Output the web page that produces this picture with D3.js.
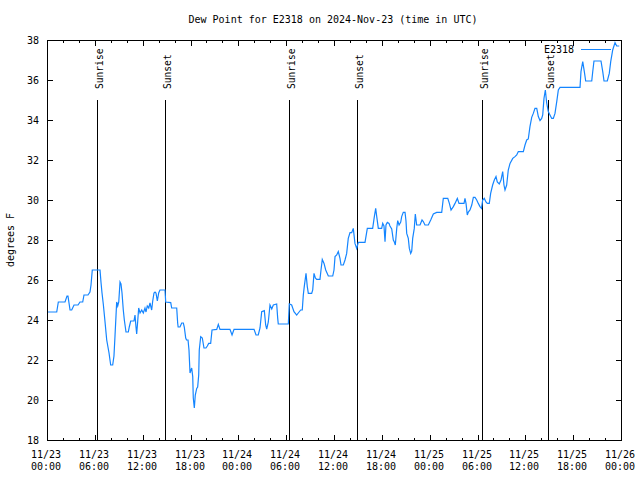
<!DOCTYPE html>
<html>
<head>
<meta charset="utf-8">
<script src="https://cdn.jsdelivr.net/npm/d3@7"></script>
<style>
html,body{margin:0;padding:0;background:#fff;}
svg{display:block;}
text{font-family:"DejaVu Sans Mono",monospace;fill:#000;}
</style>
</head>
<body>
<svg id="chart" width="640" height="480"></svg>
<script>
// ---- data ----
const titleText = "Dew Point for E2318 on 2024-Nov-23 (time in UTC)";
const seriesName = "E2318";
const yLabel = "degrees F";
// hours since 2024-11-23 00:00 UTC
const hours = [0.13,1.22,1.42,2.26,2.51,2.63,2.89,3.10,3.39,3.89,4.14,4.48,4.64,5.14,5.39,5.52,5.68,6.65,6.77,6.90,7.06,7.28,7.49,7.78,7.90,7.99,8.24,8.40,8.53,8.66,8.74,8.87,9.00,9.16,9.28,9.41,9.57,9.70,9.91,10.20,10.32,10.50,10.91,11.04,11.16,11.25,11.38,11.50,11.67,11.88,12.08,12.29,12.42,12.58,12.76,12.92,13.13,13.26,13.42,13.55,13.67,13.84,14.01,14.17,14.80,14.89,15.52,15.64,16.27,16.39,16.45,16.68,16.90,17.10,17.22,17.40,17.50,17.69,17.81,17.94,18.02,18.15,18.28,18.35,18.48,18.60,18.78,18.90,19.03,19.10,19.28,19.48,19.69,19.94,20.11,20.28,20.53,20.70,21.29,21.49,21.70,22.95,23.21,23.46,25.97,26.22,26.50,26.72,26.93,27.26,27.43,27.56,27.76,27.97,28.19,28.39,28.81,28.94,29.01,30.27,30.39,30.69,30.98,31.32,31.52,31.82,32.02,32.15,32.27,32.49,32.65,32.78,33.20,33.33,33.49,33.66,33.83,34.24,34.37,34.53,34.75,34.96,35.29,35.84,36.00,36.13,36.34,36.54,36.75,36.88,37.17,37.38,37.59,37.79,38.01,38.22,38.42,38.63,38.85,39.05,39.89,40.18,40.85,41.06,41.23,41.36,41.56,41.98,42.11,42.27,42.40,42.52,42.69,42.90,43.02,43.24,43.44,43.57,43.69,43.87,43.99,44.16,44.37,44.49,44.69,44.91,45.03,45.12,45.32,45.45,45.62,45.75,45.87,46.07,46.20,46.37,46.79,47.04,47.20,47.41,47.83,48.13,48.46,48.88,49.51,49.71,50.27,50.47,50.68,50.97,51.18,51.47,51.68,52.31,52.43,52.56,52.72,52.85,53.06,53.28,53.48,53.69,53.90,54.10,54.31,54.50,54.65,54.85,55.06,55.23,55.48,55.65,55.90,56.11,56.32,56.48,56.73,56.95,57.16,57.32,57.45,57.66,57.86,58.08,58.42,58.70,58.92,59.12,59.75,59.96,60.17,60.37,60.58,60.80,61.00,61.21,61.43,61.63,61.84,62.05,62.18,62.34,62.51,62.68,62.88,63.09,63.31,63.51,63.72,63.94,64.14,64.35,66.86,66.98,67.20,67.40,67.57,68.33,68.45,68.61,69.49,69.71,69.87,70.28,70.53,70.71,70.96,71.25,71.46,71.78];
const dewF = [24.4,24.4,24.9,24.9,25.2,25.2,24.5,24.5,24.75,24.75,24.9,24.9,25.25,25.25,25.4,25.75,26.5,26.5,25.9,25.35,24.8,23.9,23.0,22.35,22.0,21.75,21.75,22.2,23.2,24.25,24.9,24.7,24.9,25.9,25.8,25.35,24.5,24.0,23.4,23.4,23.65,23.95,23.95,24.25,23.65,23.3,23.95,24.6,24.35,24.5,24.35,24.6,24.4,24.7,24.6,24.85,24.5,24.95,25.35,25.4,25.35,24.95,25.35,25.5,25.5,24.9,24.87,24.6,24.6,23.85,23.65,23.65,23.85,23.85,23.65,23.1,23.0,23.0,22.5,21.35,21.45,21.6,21.17,20.1,19.6,20.25,20.58,20.65,21.25,22.5,23.17,23.1,22.6,22.6,22.7,22.83,22.83,23.5,23.53,23.78,23.53,23.53,23.25,23.53,23.53,23.25,23.25,23.6,24.42,24.47,23.75,23.55,23.9,24.75,24.55,24.75,24.8,24.08,23.8,23.8,24.8,24.75,24.42,24.25,24.35,24.5,24.5,25.25,25.67,26.33,25.67,25.33,25.33,25.5,26.33,26.1,26.03,26.03,26.5,27.03,26.83,26.5,26.2,26.2,26.5,27.17,27.25,27.42,27.08,26.75,26.75,27.0,27.33,28.08,28.37,28.37,28.58,27.83,27.58,27.88,27.88,28.58,28.58,29.17,29.58,29.17,28.58,28.58,28.83,28.7,27.92,28.75,28.88,28.83,28.7,28.55,28.0,27.9,27.75,28.58,28.97,28.75,28.9,29.17,29.38,29.38,28.95,28.33,28.08,27.58,27.33,27.45,28.08,28.58,29.3,28.75,28.75,29.0,28.92,28.75,28.75,29.0,29.3,29.38,29.38,30.08,30.08,29.83,29.5,29.67,29.83,30.08,29.83,29.83,30.08,29.83,29.25,29.4,29.5,29.75,30.13,30.13,30.0,29.83,29.67,29.58,30.0,30.08,29.9,29.83,29.83,30.33,30.75,31.0,31.17,30.9,30.8,31.0,31.42,30.75,30.5,30.75,31.5,31.83,32.08,32.17,32.25,32.42,32.42,32.75,33.0,33.05,33.67,34.13,34.33,34.58,34.58,34.17,33.97,34.08,34.25,35.08,35.5,34.85,34.42,34.25,34.08,34.08,34.33,34.92,35.5,35.63,35.63,36.42,36.92,36.42,35.95,35.95,36.4,36.95,36.95,36.42,35.95,35.95,36.33,36.92,37.5,37.87,37.7,37.7];
// sun events (hours since start)
const sunHours = [6.31,14.84,30.39,38.85,54.53,62.88];
const sunLabels = ["Sunrise","Sunset","Sunrise","Sunset","Sunrise","Sunset"];
const yTicks = [18,20,22,24,26,28,30,32,34,36,38];

// ---- layout ----
const L = 47, R = 621, T = 40, B = 440;
const t0 = Date.UTC(2024,10,23,0,0);
const toDate = h => new Date(t0 + h*3600e3);
const x = d3.scaleUtc().domain([toDate(0), toDate(72)]).range([L, R]);
const y = d3.scaleLinear().domain([18, 38]).range([B, T]);
const px = v => Math.round(v) + 0.5;

const svg = d3.select("#chart");
svg.append("rect").attr("width",640).attr("height",480).attr("fill","#fff");

// title
svg.append("text").attr("x",333).attr("y",23).attr("text-anchor","middle")
  .style("font-size","10px").text(titleText);

// y label
svg.append("text").attr("transform","translate(14,240) rotate(-90)")
  .attr("text-anchor","middle").style("font-size","10px").text(yLabel);

const g = svg.append("g").attr("shape-rendering","crispEdges");

// ticks: y
yTicks.forEach(v => {
  const yy = px(y(v));
  g.append("line").attr("x1",L).attr("x2",L+6).attr("y1",yy).attr("y2",yy).attr("stroke","#000");
  g.append("line").attr("x1",R+1).attr("x2",R-5).attr("y1",yy).attr("y2",yy).attr("stroke","#000");
  svg.append("text").attr("x",39).attr("y",Math.round(y(v))+4).attr("text-anchor","end")
    .style("font-size","10px").text(v);
});

// ticks: x
const minor = d3.utcHour.every(2).range(toDate(0), toDate(72.01));
minor.forEach(d => {
  const xx = px(x(d));
  const major = d.getUTCHours() % 6 === 0;
  const len = major ? 6 : 3;
  g.append("line").attr("x1",xx).attr("x2",xx).attr("y1",B+1).attr("y2",B+1-len).attr("stroke","#000");
  g.append("line").attr("x1",xx).attr("x2",xx).attr("y1",T).attr("y2",T+len).attr("stroke","#000");
});
const majors = d3.utcHour.every(6).range(toDate(0), toDate(72.01));
const fmtD = d3.utcFormat("%m/%d"), fmtT = d3.utcFormat("%H:%M");
majors.forEach(d => {
  const xx = Math.round(x(d)) - 1;
  svg.append("text").attr("x",xx).attr("y",458).attr("text-anchor","middle").style("font-size","10px").text(fmtD(d));
  svg.append("text").attr("x",xx).attr("y",470).attr("text-anchor","middle").style("font-size","10px").text(fmtT(d));
});

// sun lines
sunHours.forEach((h,i) => {
  const xx = px(x(toDate(h)));
  g.append("line").attr("x1",xx).attr("x2",xx).attr("y1",100).attr("y2",B).attr("stroke","#000");
  svg.append("text").attr("transform",`translate(${Math.round(x(toDate(h)))+6},89) rotate(-90)`)
    .attr("text-anchor","start").style("font-size","9.6px").text(sunLabels[i]);
});

// frame
g.append("rect").attr("x",L+0.5).attr("y",T+0.5).attr("width",R-L).attr("height",B-T)
  .attr("fill","none").attr("stroke","#000");

// data line
const pts = hours.map((h,i) => ({t: toDate(h), v: dewF[i]}));
const line = d3.line().x(d => x(d.t)).y(d => y(d.v));
svg.append("path").datum(pts).attr("d", line).attr("fill","none")
  .attr("stroke","#1485ff").attr("stroke-width",1.2);

// legend
svg.append("text").attr("x",574).attr("y",53).attr("text-anchor","end").style("font-size","10px").text(seriesName);
g.append("line").attr("x1",581).attr("x2",611).attr("y1",49.5).attr("y2",49.5).attr("stroke","#1485ff");
</script>
</body>
</html>
